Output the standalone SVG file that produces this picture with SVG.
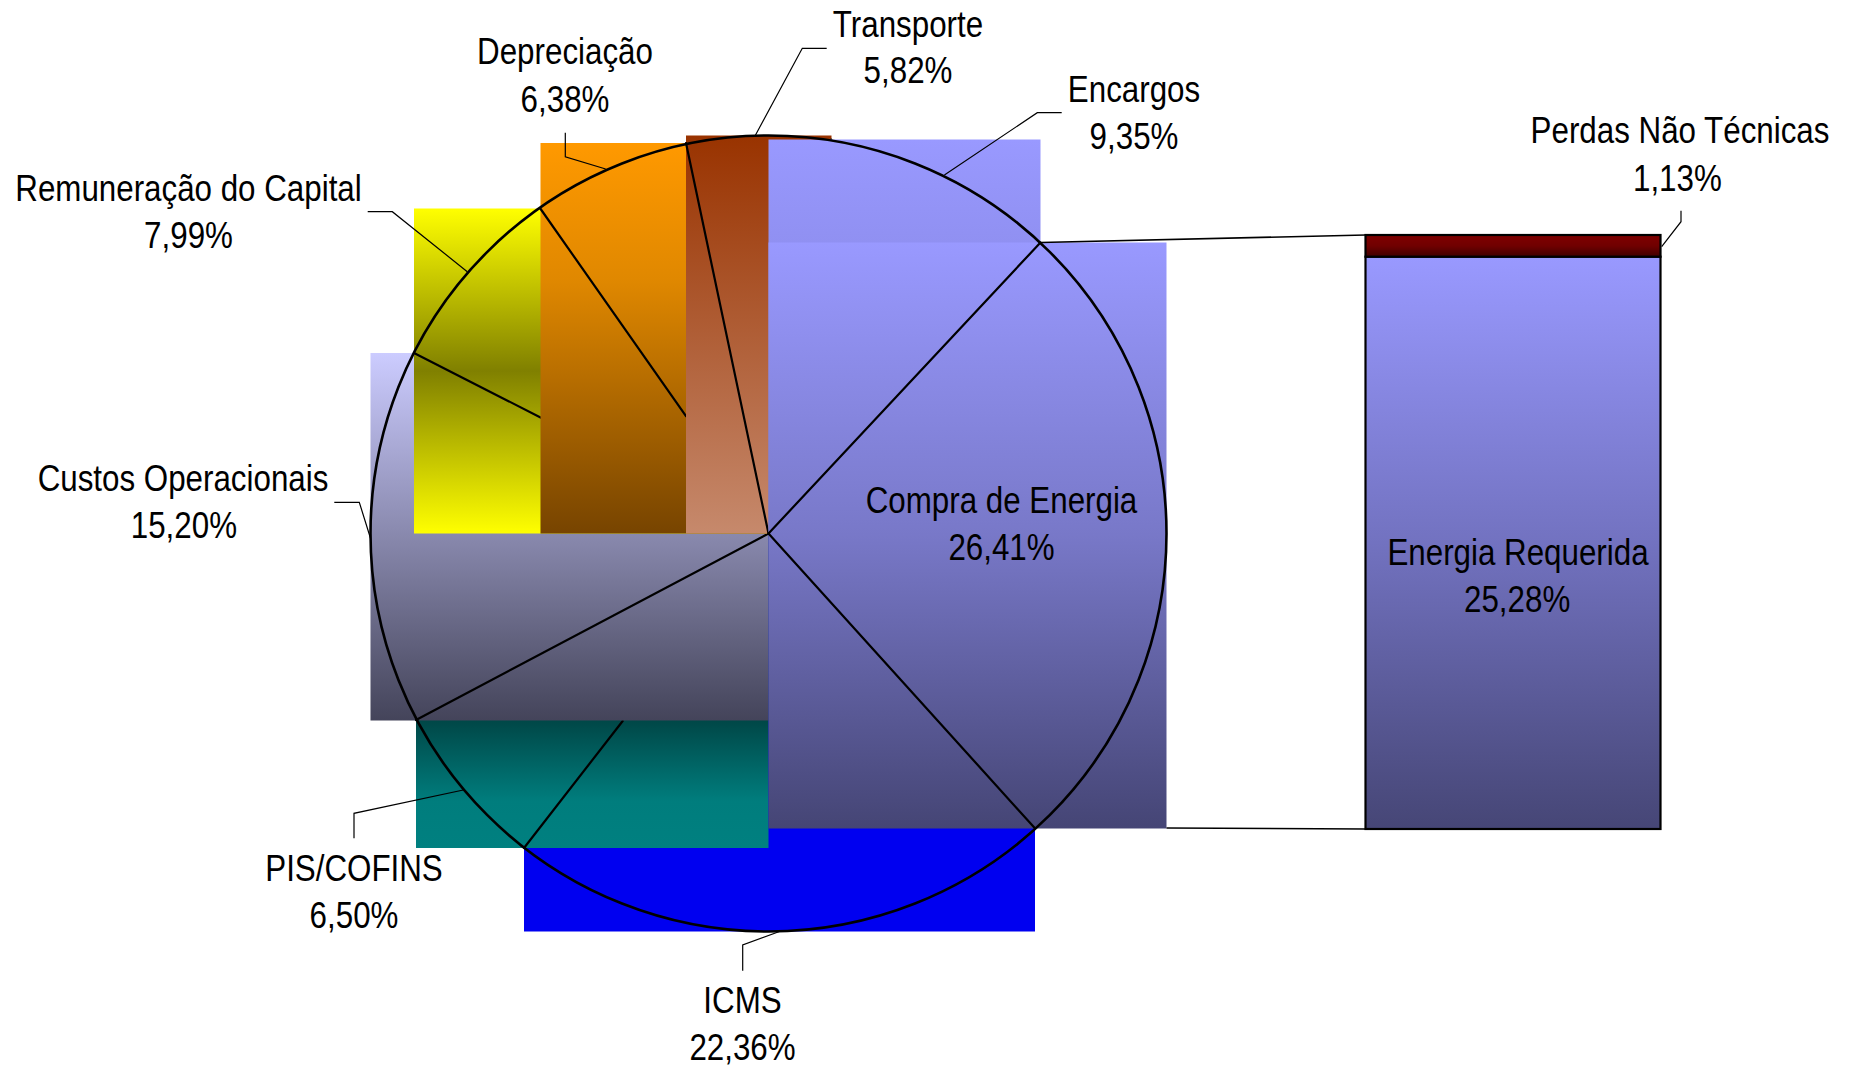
<svg xmlns="http://www.w3.org/2000/svg" width="1854" height="1069" viewBox="0 0 1854 1069">
<defs>
<linearGradient id="gCompra" x1="0" y1="0" x2="0" y2="1"><stop offset="0" stop-color="#9999FF"/><stop offset="0.5" stop-color="#7878C8"/><stop offset="1" stop-color="#454575"/></linearGradient>
<linearGradient id="gEnc" x1="0" y1="0" x2="0" y2="1"><stop offset="0" stop-color="#9999FF"/><stop offset="1" stop-color="#7777CC"/></linearGradient>
<linearGradient id="gTransp" x1="0" y1="0" x2="0" y2="1"><stop offset="0" stop-color="#993300"/><stop offset="1" stop-color="#C6896C"/></linearGradient>
<linearGradient id="gDep" x1="0" y1="0" x2="0" y2="1"><stop offset="0" stop-color="#FF9900"/><stop offset="0.35" stop-color="#E08800"/><stop offset="1" stop-color="#774400"/></linearGradient>
<linearGradient id="gRem" x1="0" y1="0" x2="0" y2="1"><stop offset="0" stop-color="#FFFF00"/><stop offset="0.5" stop-color="#808000"/><stop offset="1" stop-color="#FFFF00"/></linearGradient>
<linearGradient id="gCustos" x1="0" y1="0" x2="0" y2="1"><stop offset="0" stop-color="#CCCCFF"/><stop offset="1" stop-color="#44445A"/></linearGradient>
<linearGradient id="gPis" x1="0" y1="0" x2="0" y2="1"><stop offset="0" stop-color="#003030"/><stop offset="0.6" stop-color="#004848"/><stop offset="0.85" stop-color="#007D7D"/><stop offset="1" stop-color="#008080"/></linearGradient>
<linearGradient id="gEnergia" x1="0" y1="0" x2="0" y2="1"><stop offset="0" stop-color="#9999FF"/><stop offset="0.5" stop-color="#7272C0"/><stop offset="1" stop-color="#464676"/></linearGradient>
<linearGradient id="gPerdas" x1="0" y1="0" x2="0" y2="1"><stop offset="0" stop-color="#800000"/><stop offset="0.5" stop-color="#700000"/><stop offset="1" stop-color="#400000"/></linearGradient>
</defs>
<style>
.lbl{font-family:"Liberation Sans",Arial,sans-serif;font-size:36px;fill:#000;text-anchor:middle}
.edge{stroke:#000;stroke-width:2.2;fill:none;stroke-linecap:round}
.lead{stroke:#000;stroke-width:1.2;fill:none}
.conn{stroke:#000;stroke-width:1.6;fill:none}
</style>
<rect width="1854" height="1069" fill="#FFFFFF"/>

<g id="pie">
  <g id="slice-icms"><rect x="524" y="533.5" width="511" height="398" fill="#0000F0"/></g>
  <g id="slice-pis"><rect x="416" y="533.5" width="352.5" height="314.5" fill="url(#gPis)"/><line class="edge" x1="524" y1="848" x2="622.7" y2="721"/></g>
  <g id="slice-custos"><rect x="370.5" y="353" width="398" height="367.5" fill="url(#gCustos)"/><line class="edge" x1="416" y1="720" x2="768.5" y2="533.5"/></g>
  <g id="slice-rem"><rect x="414" y="208.5" width="354.5" height="325" fill="url(#gRem)"/><line class="edge" x1="414" y1="353" x2="541" y2="417.7"/></g>
  <g id="slice-dep"><rect x="540.5" y="143" width="228" height="390.5" fill="url(#gDep)"/><line class="edge" x1="540.3" y1="208.5" x2="686" y2="416.2"/></g>
  <g id="slice-transp"><rect x="686" y="135.5" width="145.5" height="398" fill="url(#gTransp)"/><line class="edge" x1="686" y1="143" x2="768.5" y2="533.5"/><line class="edge" x1="831.3" y1="139.5" x2="815" y2="243"/></g>
  <g id="slice-enc"><rect x="768.5" y="139.5" width="272" height="394" fill="url(#gEnc)"/></g>
  <g id="slice-compra"><rect x="768.5" y="242.5" width="398" height="586" fill="url(#gCompra)"/><line class="edge" x1="1040.5" y1="242.5" x2="768.5" y2="533.5"/><line class="edge" x1="1034.7" y1="828" x2="768.5" y2="533.5"/></g>
  <circle cx="768.5" cy="533.5" r="398" fill="none" stroke="#000" stroke-width="2.6"/>
</g>

<g id="bar">
  <rect id="energia-requerida" x="1365.5" y="256.7" width="295" height="572.3" fill="url(#gEnergia)" stroke="#000" stroke-width="2.2"/>
  <rect id="perdas" x="1365.5" y="235" width="295" height="21.7" fill="url(#gPerdas)" stroke="#000" stroke-width="2.2"/>
</g>

<g id="connectors">
  <line class="conn" x1="1040.5" y1="242.5" x2="1365.5" y2="235"/>
  <line class="conn" x1="1166.5" y1="828" x2="1365.5" y2="829"/>
  <polyline class="lead" points="565.3,132.7 565.3,156.7 605.7,169"/>
  <polyline class="lead" points="826.7,48.3 802.3,48.3 755,136"/>
  <polyline class="lead" points="1061.7,112.7 1037.3,112.7 944.4,175"/>
  <polyline class="lead" points="1681,210.7 1681,221.7 1661.7,246.7"/>
  <polyline class="lead" points="367.7,211.7 392.3,211.7 467.3,271.7"/>
  <polyline class="lead" points="334.3,502.3 359.3,502.3 370.5,538.3"/>
  <polyline class="lead" points="354,838.3 354,813.3 463.3,790"/>
  <polyline class="lead" points="742.7,970.7 742.7,945 779.5,931.5"/>
</g>

<g id="labels">
  <g id="lbl-dep"><text class="lbl" transform="translate(565 64.3) scale(0.87 1)"><tspan x="0" y="0">Depreciação</tspan><tspan x="0" y="47.4">6,38%</tspan></text></g>
  <g id="lbl-transp"><text class="lbl" transform="translate(908 36.7) scale(0.87 1)"><tspan x="0" y="0">Transporte</tspan><tspan x="0" y="46.6">5,82%</tspan></text></g>
  <g id="lbl-enc"><text class="lbl" transform="translate(1134 101.7) scale(0.87 1)"><tspan x="0" y="0">Encargos</tspan><tspan x="0" y="47.6">9,35%</tspan></text></g>
  <g id="lbl-perdas"><text class="lbl" transform="translate(1680 143.3) scale(0.87 1)"><tspan x="0" y="0">Perdas Não Técnicas</tspan><tspan x="-3" y="47.7">1,13%</tspan></text></g>
  <g id="lbl-rem"><text class="lbl" transform="translate(188.5 201) scale(0.87 1)"><tspan x="0" y="0">Remuneração do Capital</tspan><tspan x="0" y="46.7">7,99%</tspan></text></g>
  <g id="lbl-custos"><text class="lbl" transform="translate(183 490.7) scale(0.87 1)"><tspan x="0" y="0">Custos Operacionais</tspan><tspan x="1" y="47.6">15,20%</tspan></text></g>
  <g id="lbl-pis"><text class="lbl" transform="translate(354 880.7) scale(0.87 1)"><tspan x="0" y="0">PIS/COFINS</tspan><tspan x="0" y="47.6">6,50%</tspan></text></g>
  <g id="lbl-icms"><text class="lbl" transform="translate(742.5 1013.3) scale(0.87 1)"><tspan x="0" y="0">ICMS</tspan><tspan x="0" y="46.7">22,36%</tspan></text></g>
  <g id="lbl-compra"><text class="lbl" transform="translate(1001.5 512.7) scale(0.87 1)"><tspan x="0" y="0">Compra de Energia</tspan><tspan x="0" y="47.3">26,41%</tspan></text></g>
  <g id="lbl-energia"><text class="lbl" transform="translate(1518 565) scale(0.87 1)"><tspan x="0" y="0">Energia Requerida</tspan><tspan x="-1" y="47">25,28%</tspan></text></g>
</g>
</svg>
